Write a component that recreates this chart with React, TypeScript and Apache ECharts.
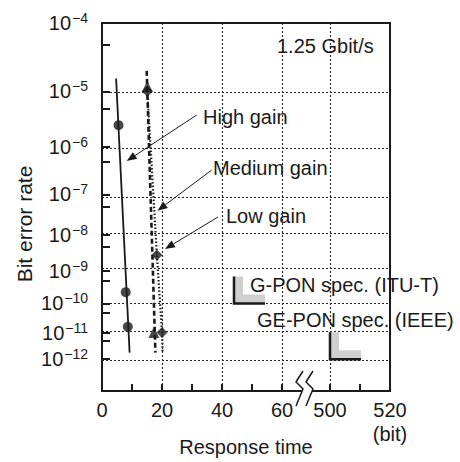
import React, { useEffect, useRef } from "react";
import * as echarts from "echarts";

// ---- data ----
const yExponents = [4, 5, 6, 7, 8, 9, 10, 11, 12];
const yMinorBer = [5e-5, 5e-6, 5e-7, 5e-8, 5e-9, 5e-10, 5e-11, 5e-12];
const xTickValues = [0, 10, 20, 30, 40, 50, 60, 500, 510, 520];
const xLabelValues = [0, 20, 40, 60, 500, 520];
const xGridValues = [20, 40, 60, 500];

const highLine = [[4.7, 1.6e-5], [9.2, 1.8e-12]];
const highPoints = [[5.5, 2.6e-6], [7.9, 2.3e-10], [8.6, 1.6e-11]];
const mediumLine = [[14.9, 2.1e-5], [17.8, 1.8e-12]];
const mediumPoints = [[15.1, 1.2e-5], [17.3, 1e-11]];
const lowLine = [[15.1, 1e-5], [18.3, 2.9e-9], [20.0, 1e-11], [20.2, 1.8e-12]];
const lowPoints = [[15.1, 1e-5], [18.3, 2.9e-9], [20.0, 1e-11]];
const specNames = ["G-PON spec. (ITU-T)", "GE-PON spec. (IEEE)"];
const specPoints = [[44, 1e-10], [500, 1e-12]];

// ---- scales ----
const BREAK_SHIFT = 424; // 500 on the broken axis sits at 76
const mapX = (x: number) => (x >= 500 ? x - BREAK_SHIFT : x);
const unmapX = (v: number) => (v > 60 ? Math.round(v + BREAK_SHIFT) : Math.round(v));
const qy = (ber: number) => Math.log10(-Math.log10(ber));
const toXY = (arr: number[][]) => arr.map(([x, b]) => [mapX(x), qy(b)]);

const FONT = "'Liberation Sans', Arial, Helvetica, sans-serif";
const INK = "#1a1a1a";

function arrow(x1: number, y1: number, x2: number, y2: number) {
  const dx = x2 - x1, dy = y2 - y1;
  const len = Math.hypot(dx, dy);
  const ux = dx / len, uy = dy / len;
  const L = 10, W = 4;
  const bx = x2 - ux * L, by = y2 - uy * L;
  return [
    { type: "line", z: 100, shape: { x1, y1, x2: bx, y2: by }, style: { stroke: INK, lineWidth: 1 } },
    {
      type: "polygon", z: 100,
      shape: { points: [[x2, y2], [bx - uy * W, by + ux * W], [bx + uy * W, by - ux * W]] },
      style: { fill: INK },
    },
  ];
}

function txt(text: string, x: number, y: number, extra: any = {}) {
  return {
    type: "text", z: 100, x, y,
    style: { text, fill: INK, font: `20px ${FONT}`, textVerticalAlign: "middle", textAlign: "left", ...extra },
  };
}

export default function App() {
  const ref = useRef<HTMLDivElement>(null);
  useEffect(() => {
    if (!ref.current) return;
    const chart = echarts.init(ref.current, undefined, { renderer: "svg" });
    const option: any = {
      animation: false,
      backgroundColor: "#fff",
      grid: {
        left: 102, top: 23, right: 70, bottom: 71,
        containLabel: false, outerBoundsMode: "none",
        show: true, borderColor: INK, borderWidth: 2, backgroundColor: "transparent",
      },
      xAxis: {
        type: "value",
        min: 0,
        max: mapX(520),
        splitLine: { show: false },
        axisLine: { show: true, lineStyle: { color: INK, width: 2 } },
        axisTick: { show: true, inside: true, length: 7, customValues: xTickValues.map(mapX), lineStyle: { color: INK, width: 2 } },
        axisLabel: {
          customValues: xLabelValues.map(mapX),
          formatter: (v: number) => { const u = unmapX(v); return u === 520 ? "520\n(bit)" : String(u); },
          color: INK, fontSize: 20, fontFamily: FONT, margin: 7, lineHeight: 24,
        },
      },
      yAxis: {
        type: "value",
        inverse: true,
        min: qy(1e-4),
        max: 1.1243,
        splitLine: { show: false },
        axisLine: { show: true, lineStyle: { color: INK, width: 2 } },
        axisTick: {
          show: true, inside: true, length: 8,
          customValues: [...yExponents.map((n) => qy(Math.pow(10, -n))), ...yMinorBer.map(qy)],
          lineStyle: { color: INK, width: 2 },
        },
        axisLabel: {
          customValues: yExponents.map((n) => qy(Math.pow(10, -n))),
          formatter: (v: number) => `{a|10}{b|\u2212${Math.round(Math.pow(10, v))}}`,
          margin: 14,
          rich: {
            a: { fontSize: 20, fontFamily: FONT, color: INK },
            b: { fontSize: 14, fontFamily: FONT, color: INK, padding: [0, 0, 10, 1] },
          },
        },
      },
      series: [
        {
          type: "line", data: toXY(highLine), showSymbol: false, symbol: "none",
          lineStyle: { color: INK, width: 1.8 }, z: 3,
          markLine: {
            silent: true, symbol: ["none", "none"], label: { show: false },
            lineStyle: { color: "#222", width: 1.1, type: [2, 2] },
            data: [
              ...xGridValues.map((v) => ({ xAxis: mapX(v) })),
              ...yExponents.slice(1).map((n) => ({ yAxis: qy(Math.pow(10, -n)) })),
            ],
          },
        },
        { type: "scatter", data: toXY(highPoints), symbol: "circle", symbolSize: 10, itemStyle: { color: INK }, z: 4 },
        { type: "line", data: toXY(mediumLine), symbol: "none", lineStyle: { color: INK, width: 2.6, type: [5, 3] }, z: 3 },
        { type: "scatter", data: toXY(mediumPoints), symbol: "triangle", symbolSize: 11, itemStyle: { color: INK }, z: 4 },
        { type: "line", data: toXY(lowLine), symbol: "none", lineStyle: { color: INK, width: 2.2, type: [1.5, 2] }, z: 3 },
        { type: "scatter", data: toXY(lowPoints), symbol: "diamond", symbolSize: 11, itemStyle: { color: INK }, z: 4 },
        {
          type: "custom",
          data: toXY(specPoints),
          z: 5,
          renderItem: (params: any, api: any) => {
            const p = api.coord([api.value(0), api.value(1)]);
            const w = 31, h = 27, t = 9;
            const [x, y] = p;
            return {
              type: "group",
              children: [
                {
                  type: "polygon",
                  shape: { points: [[x, y - h], [x + t, y - h], [x + t, y - t], [x + w, y - t], [x + w, y], [x, y]] },
                  style: { fill: "#cfcfcf" },
                },
                {
                  type: "polyline",
                  shape: { points: [[x, y - h], [x, y], [x + w, y]] },
                  style: { stroke: INK, lineWidth: 2.5, fill: "none" },
                },
              ],
            };
          },
        },
      ],
      graphic: [
        txt("1.25 Gbit/s", 277, 46),
        txt("High gain", 203, 117),
        txt("Medium gain", 213, 168),
        txt("Low gain", 226, 216),
        txt(specNames[0], 250, 285),
        txt(specNames[1], 257, 320),
        txt("Response time", 246, 447, { textAlign: "center" }),
        ...arrow(196.7, 115, 126.7, 161),
        ...arrow(211.7, 170, 157.5, 210.7),
        ...arrow(218, 217, 165, 249),
        {
          type: "text", z: 100, x: 24, y: 224, rotation: Math.PI / 2,
          style: { text: "Bit error rate", fill: INK, font: `21px ${FONT}`, textAlign: "center", textVerticalAlign: "middle" },
        },
        { type: "rect", z: 100, shape: { x: 302, y: 387, width: 10, height: 8 }, style: { fill: "#fff" } },
        { type: "polyline", z: 101, shape: { points: [[303, 371], [296, 382], [303, 389], [296, 406]] }, style: { stroke: INK, lineWidth: 1.5, fill: "none" } },
        { type: "polyline", z: 101, shape: { points: [[313, 371], [306, 382], [313, 389], [306, 406]] }, style: { stroke: INK, lineWidth: 1.5, fill: "none" } },
      ],
    };
    chart.setOption(option);
    return () => chart.dispose();
  }, []);
  return <div ref={ref} style={{ position: "absolute", left: 0, top: 0, width: 460, height: 462 }} />;
}
